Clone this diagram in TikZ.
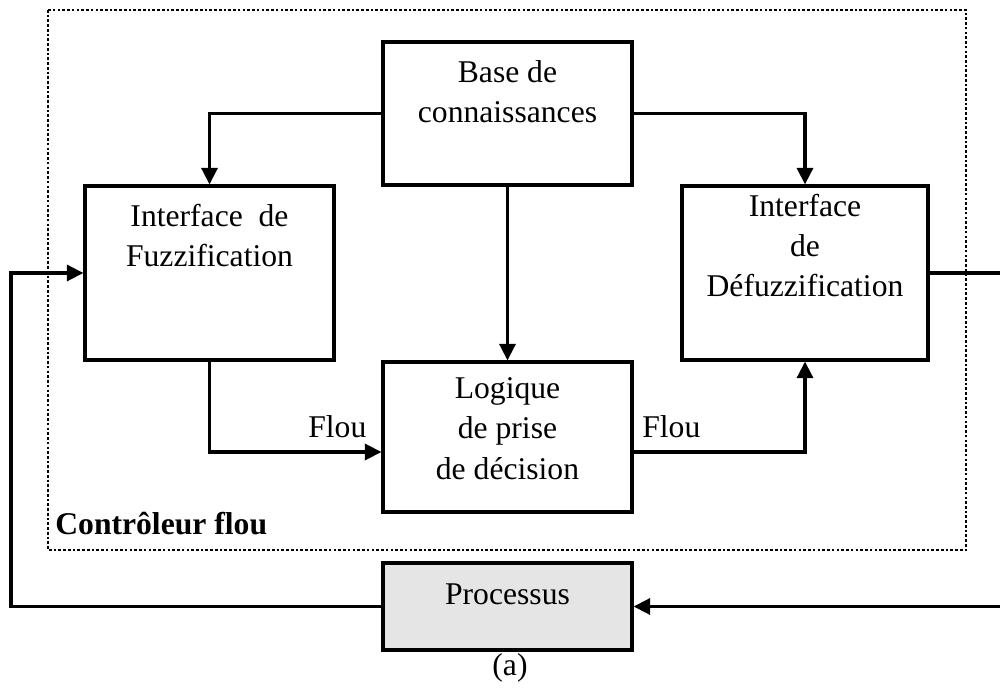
\documentclass[tikz,border=0pt]{standalone}
\usepackage{fontspec}
\setmainfont{Liberation Serif}
\usetikzlibrary{positioning,calc,arrows.meta}
\definecolor{procgray}{gray}{0.9}
\tikzset{
  blk/.style={draw, line width=1.8pt, inner sep=0pt},
  txt/.style={inner sep=0pt, align=center, font=\fontsize{18}{23}\selectfont},
  flow/.style={line width=1.8pt, -{Triangle[length=3.3mm,width=3.2mm]}},
}

\begin{document}
\begin{tikzpicture}[x=0.2mm,y=-0.2mm]
\useasboundingbox (0,0) rectangle (1000,690);
% controller frame
\draw[line width=1.5pt, dash pattern=on 1.5pt off 1.2pt] (48,10) rectangle (966,550);
\node[txt, anchor=base west, font=\fontsize{18}{23}\selectfont\bfseries] (ctl) at (55,535) {Contrôleur flou};

% blocks
\node[blk, minimum width=49.8mm, minimum height=28.6mm] (base) at (507.5,113.5) {};
\node[blk, minimum width=49.8mm, minimum height=34.8mm] (fuzz) at (209.5,273) {};
\node[blk, minimum width=49.2mm, minimum height=34.8mm] (defuzz) at (805,273) {};
\node[blk, minimum width=49.8mm, minimum height=30mm] (logique) at (507.5,437) {};
\node[blk, fill=procgray, minimum width=49.8mm, minimum height=17.4mm] (proc) at (507.5,606.5) {};

% block texts
\node[txt, below=3.9mm of base.north] (baseT) {Base de\\connaissances};
\node[txt, below=3.9mm of fuzz.north] (fuzzT) {Interface~~de\\Fuzzification};
\node[txt, below=1.8mm of defuzz.north] (defuzzT) {Interface\\de\\Défuzzification};
\node[txt, below=3.3mm of logique.north] (logiqueT) {Logique\\de prise\\de décision};
\node[txt, below=4.4mm of proc.north] (procT) {Processus};

% connectors
\draw[flow] (base.west) -| (fuzz.north);
\draw[flow] (base.east) -| (defuzz.north);
\draw[flow] (base.south) -- (logique.north);
\draw[flow] (fuzz.south) |- ($(logique.west)+(0,15)$);
\draw[flow] ($(logique.east)+(0,15)$) -| (defuzz.south);
\node[txt, anchor=base west] (flouA) at (308,438) {Flou};
\node[txt, anchor=base west] (flouB) at (642,438) {Flou};

% feedback loop
\coordinate (rgt) at (1004,273);
\coordinate (lft) at (11,273);
\draw[flow] (defuzz.east) -- (rgt) |- (proc.east);
\draw[flow] (proc.west) -| (lft) -- (fuzz.west);

\node[txt, anchor=base] (cap) at (510,675) {(a)};
\end{tikzpicture}
\end{document}
